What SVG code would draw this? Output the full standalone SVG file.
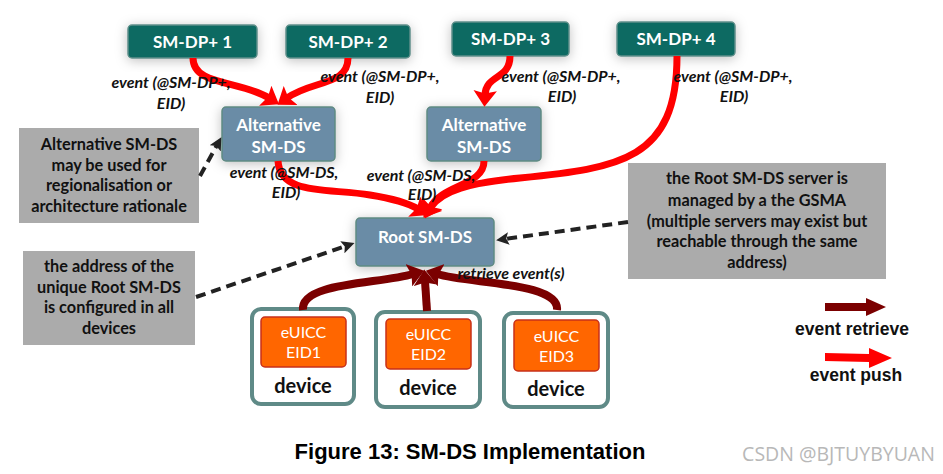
<svg xmlns="http://www.w3.org/2000/svg" width="943" height="474" viewBox="0 0 943 474">
<style>
.dp rect{fill:#0d6a62;stroke:#5f8f8a;stroke-width:1.5}
.ds rect{fill:#6a8ca6;stroke:#5f8a82;stroke-width:1.5}
.nt{font-family:Lato,"Open Sans",sans-serif;font-weight:bold;font-size:17px;fill:#fff;text-anchor:middle}
.note rect{fill:#ababab}
.ntx{font-family:Lato,"Open Sans",sans-serif;font-weight:bold;font-size:16.3px;fill:#111;text-anchor:middle}
.lbl{font-family:Lato,"Open Sans",sans-serif;font-weight:bold;font-style:italic;font-size:16px;fill:#111;text-anchor:middle}
.dev .outer{fill:#fff;stroke:#5f8a87;stroke-width:4}
.dev .chip{fill:#ff6600;stroke:#c8301a;stroke-width:1.5}
.ctx{font-family:Lato,"Open Sans",sans-serif;font-size:16px;fill:#fff;text-anchor:middle}
.dtx{font-family:Lato,"Open Sans",sans-serif;font-weight:bold;font-size:20px;fill:#111;text-anchor:middle}
.push{fill:none;stroke:#ff0000;stroke-width:7;marker-end:url(#hr)}
.retr{fill:none;stroke:#7b0000;stroke-width:8;marker-end:url(#hd)}
.dash{fill:none;stroke:#222;stroke-width:4;stroke-dasharray:10 6;marker-end:url(#hk)}
.leg{font-family:"Liberation Sans",Arial,sans-serif;font-weight:bold;font-size:17.5px;fill:#111;text-anchor:middle}
</style>
<defs>
<filter id="sh" x="-30%" y="-40%" width="160%" height="180%">
<feDropShadow dx="0" dy="2" stdDeviation="6" flood-color="#000" flood-opacity="0.25"/>
</filter>
<marker id="hr" viewBox="0 0 11 16" refX="3" refY="8" markerWidth="2.3" markerHeight="3.35" orient="auto">
<path d="M0,0 L11,8 L0,16 L2,8 z" fill="#ff0000"/>
</marker>
<marker id="hd" viewBox="0 0 11 16" refX="3" refY="8" markerWidth="2" markerHeight="2.9" orient="auto">
<path d="M0,0 L11,8 L0,16 L2,8 z" fill="#7b0000"/>
</marker>
<marker id="hk" viewBox="0 0 10 10" refX="3" refY="5" markerWidth="3.2" markerHeight="3.2" orient="auto">
<path d="M0,0 L10,5 L0,10 L2,5 z" fill="#222"/>
</marker>
</defs>
<rect width="943" height="474" fill="#fff"/>

<g id="sm-dp1" class="dp"><rect x="128" y="25" width="129" height="33" rx="4" filter="url(#sh)"/><text class="nt" x="192.5" y="47.5">SM-DP+ 1</text></g>
<g id="sm-dp2" class="dp"><rect x="286" y="25" width="124" height="33" rx="4" filter="url(#sh)"/><text class="nt" x="348" y="47.5">SM-DP+ 2</text></g>
<g id="sm-dp3" class="dp"><rect x="452" y="22" width="117" height="34" rx="4" filter="url(#sh)"/><text class="nt" x="510.5" y="45">SM-DP+ 3</text></g>
<g id="sm-dp4" class="dp"><rect x="617" y="22" width="118" height="34" rx="4" filter="url(#sh)"/><text class="nt" x="676" y="45">SM-DP+ 4</text></g>

<g id="alt-ds1" class="ds"><rect x="222" y="107" width="113" height="54" rx="4" filter="url(#sh)"/><text class="nt" x="278.5" y="131">Alternative</text><text class="nt" x="278.5" y="153">SM-DS</text></g>
<g id="alt-ds2" class="ds"><rect x="427" y="107" width="114" height="54" rx="4" filter="url(#sh)"/><text class="nt" x="484" y="131">Alternative</text><text class="nt" x="484" y="153">SM-DS</text></g>
<g id="root-ds" class="ds"><rect x="356" y="218" width="138" height="48" rx="4" filter="url(#sh)"/><text class="nt" x="425" y="243">Root SM-DS</text></g>

<g id="note1" class="note"><rect x="19" y="128" width="180" height="95"/>
<text class="ntx" x="109" y="150">Alternative SM-DS</text><text class="ntx" x="109" y="171">may be used for</text><text class="ntx" x="109" y="191">regionalisation or</text><text class="ntx" x="109" y="212">architecture rationale</text></g>
<g id="note2" class="note"><rect x="23" y="251" width="172" height="94"/>
<text class="ntx" x="109" y="272">the address of the</text><text class="ntx" x="109" y="293">unique  Root SM-DS</text><text class="ntx" x="109" y="313">is configured in all</text><text class="ntx" x="109" y="334">devices</text></g>
<g id="note3" class="note"><rect x="628" y="163" width="258" height="116"/>
<text class="ntx" x="757" y="184">the Root SM-DS server is</text><text class="ntx" x="757" y="206">managed by a the GSMA</text><text class="ntx" x="757" y="227">(multiple servers may exist but</text><text class="ntx" x="757" y="247">reachable through the same</text><text class="ntx" x="757" y="268">address)</text></g>

<g id="device1" class="dev"><rect class="outer" x="252" y="309" width="102" height="95" rx="9"/><rect class="chip" x="261" y="317" width="85" height="50" rx="4"/><text class="ctx" x="303.5" y="338">eUICC</text><text class="ctx" x="303.5" y="358">EID1</text><text class="dtx" x="303" y="393">device</text></g>
<g id="device2" class="dev"><rect class="outer" x="376" y="312" width="104" height="95" rx="9"/><rect class="chip" x="386" y="319" width="85" height="50" rx="4"/><text class="ctx" x="428.5" y="340">eUICC</text><text class="ctx" x="428.5" y="360">EID2</text><text class="dtx" x="428" y="395">device</text></g>
<g id="device3" class="dev"><rect class="outer" x="504" y="313" width="104" height="94" rx="9"/><rect class="chip" x="514" y="320" width="85" height="51" rx="4"/><text class="ctx" x="556.5" y="342">eUICC</text><text class="ctx" x="556.5" y="362">EID3</text><text class="dtx" x="556" y="396">device</text></g>

<g id="connectors">
<path class="push" d="M193,58 C193,86 240,80 269,98"/>
<path class="push" d="M348,58 C348,86 312,80 287,98"/>
<path class="push" d="M510,56 C510,80 486,74 485,95"/>
<path class="push" d="M677,56 C677,160 620,168 520,178 C470,183 442,190 430,208"/>
<path class="push" d="M484,161 C484,186 442,184 430,208"/>
<path class="push" d="M278,161 C280,196 330,188 370,195 C395,199 408,203 418,209"/>
<path class="retr" d="M303,310 C300,282 380,284 413,274"/>
<path class="retr" d="M427,311 L425,281"/>
<path class="retr" d="M557,310 C560,282 470,284 437,274"/>
<path class="dash" d="M200,176 L217,145"/>
<path class="dash" d="M196,297 L346,246"/>
<path class="dash" d="M628,222 L505,239"/>
</g>

<g id="labels">
<text class="lbl" x="171" y="88">event (@SM-DP+,</text><text class="lbl" x="171" y="109">EID)</text>
<text class="lbl" x="380" y="82">event (@SM-DP+,</text><text class="lbl" x="380" y="103">EID)</text>
<text class="lbl" x="561" y="82">event (@SM-DP+,</text><text class="lbl" x="562" y="102">EID)</text>
<text class="lbl" x="733" y="82">event (@SM-DP+,</text><text class="lbl" x="734" y="102">EID)</text>
<text class="lbl" x="284" y="178">event (@SM-DS,</text><text class="lbl" x="286" y="198">EID)</text>
<text class="lbl" x="421" y="181">event (@SM-DS,</text><text class="lbl" x="422" y="200">EID)</text>
<text class="lbl" x="511" y="279">retrieve event(s)</text>
</g>

<g id="legend">
<path d="M825,303 L866,303 L866,298 L886,307 L866,316 L866,311 L825,311 z" fill="#7b0000"/>
<text class="leg" x="852" y="335">event retrieve</text>
<path d="M825,353 L869,354 L869,348 L892,358 L869,368 L869,362 L825,361 z" fill="#ff0000"/>
<text class="leg" x="856" y="381">event push</text>
</g>

<text x="470" y="459" font-family="Liberation Sans, Arial, sans-serif" font-weight="bold" font-size="22" fill="#000" text-anchor="middle">Figure 13: SM-DS Implementation</text>
<text x="838.5" y="461" font-family="Open Sans, sans-serif" font-size="19.5" fill="#b8b8b8" text-anchor="middle">CSDN @BJTUYBYUAN</text>
</svg>
